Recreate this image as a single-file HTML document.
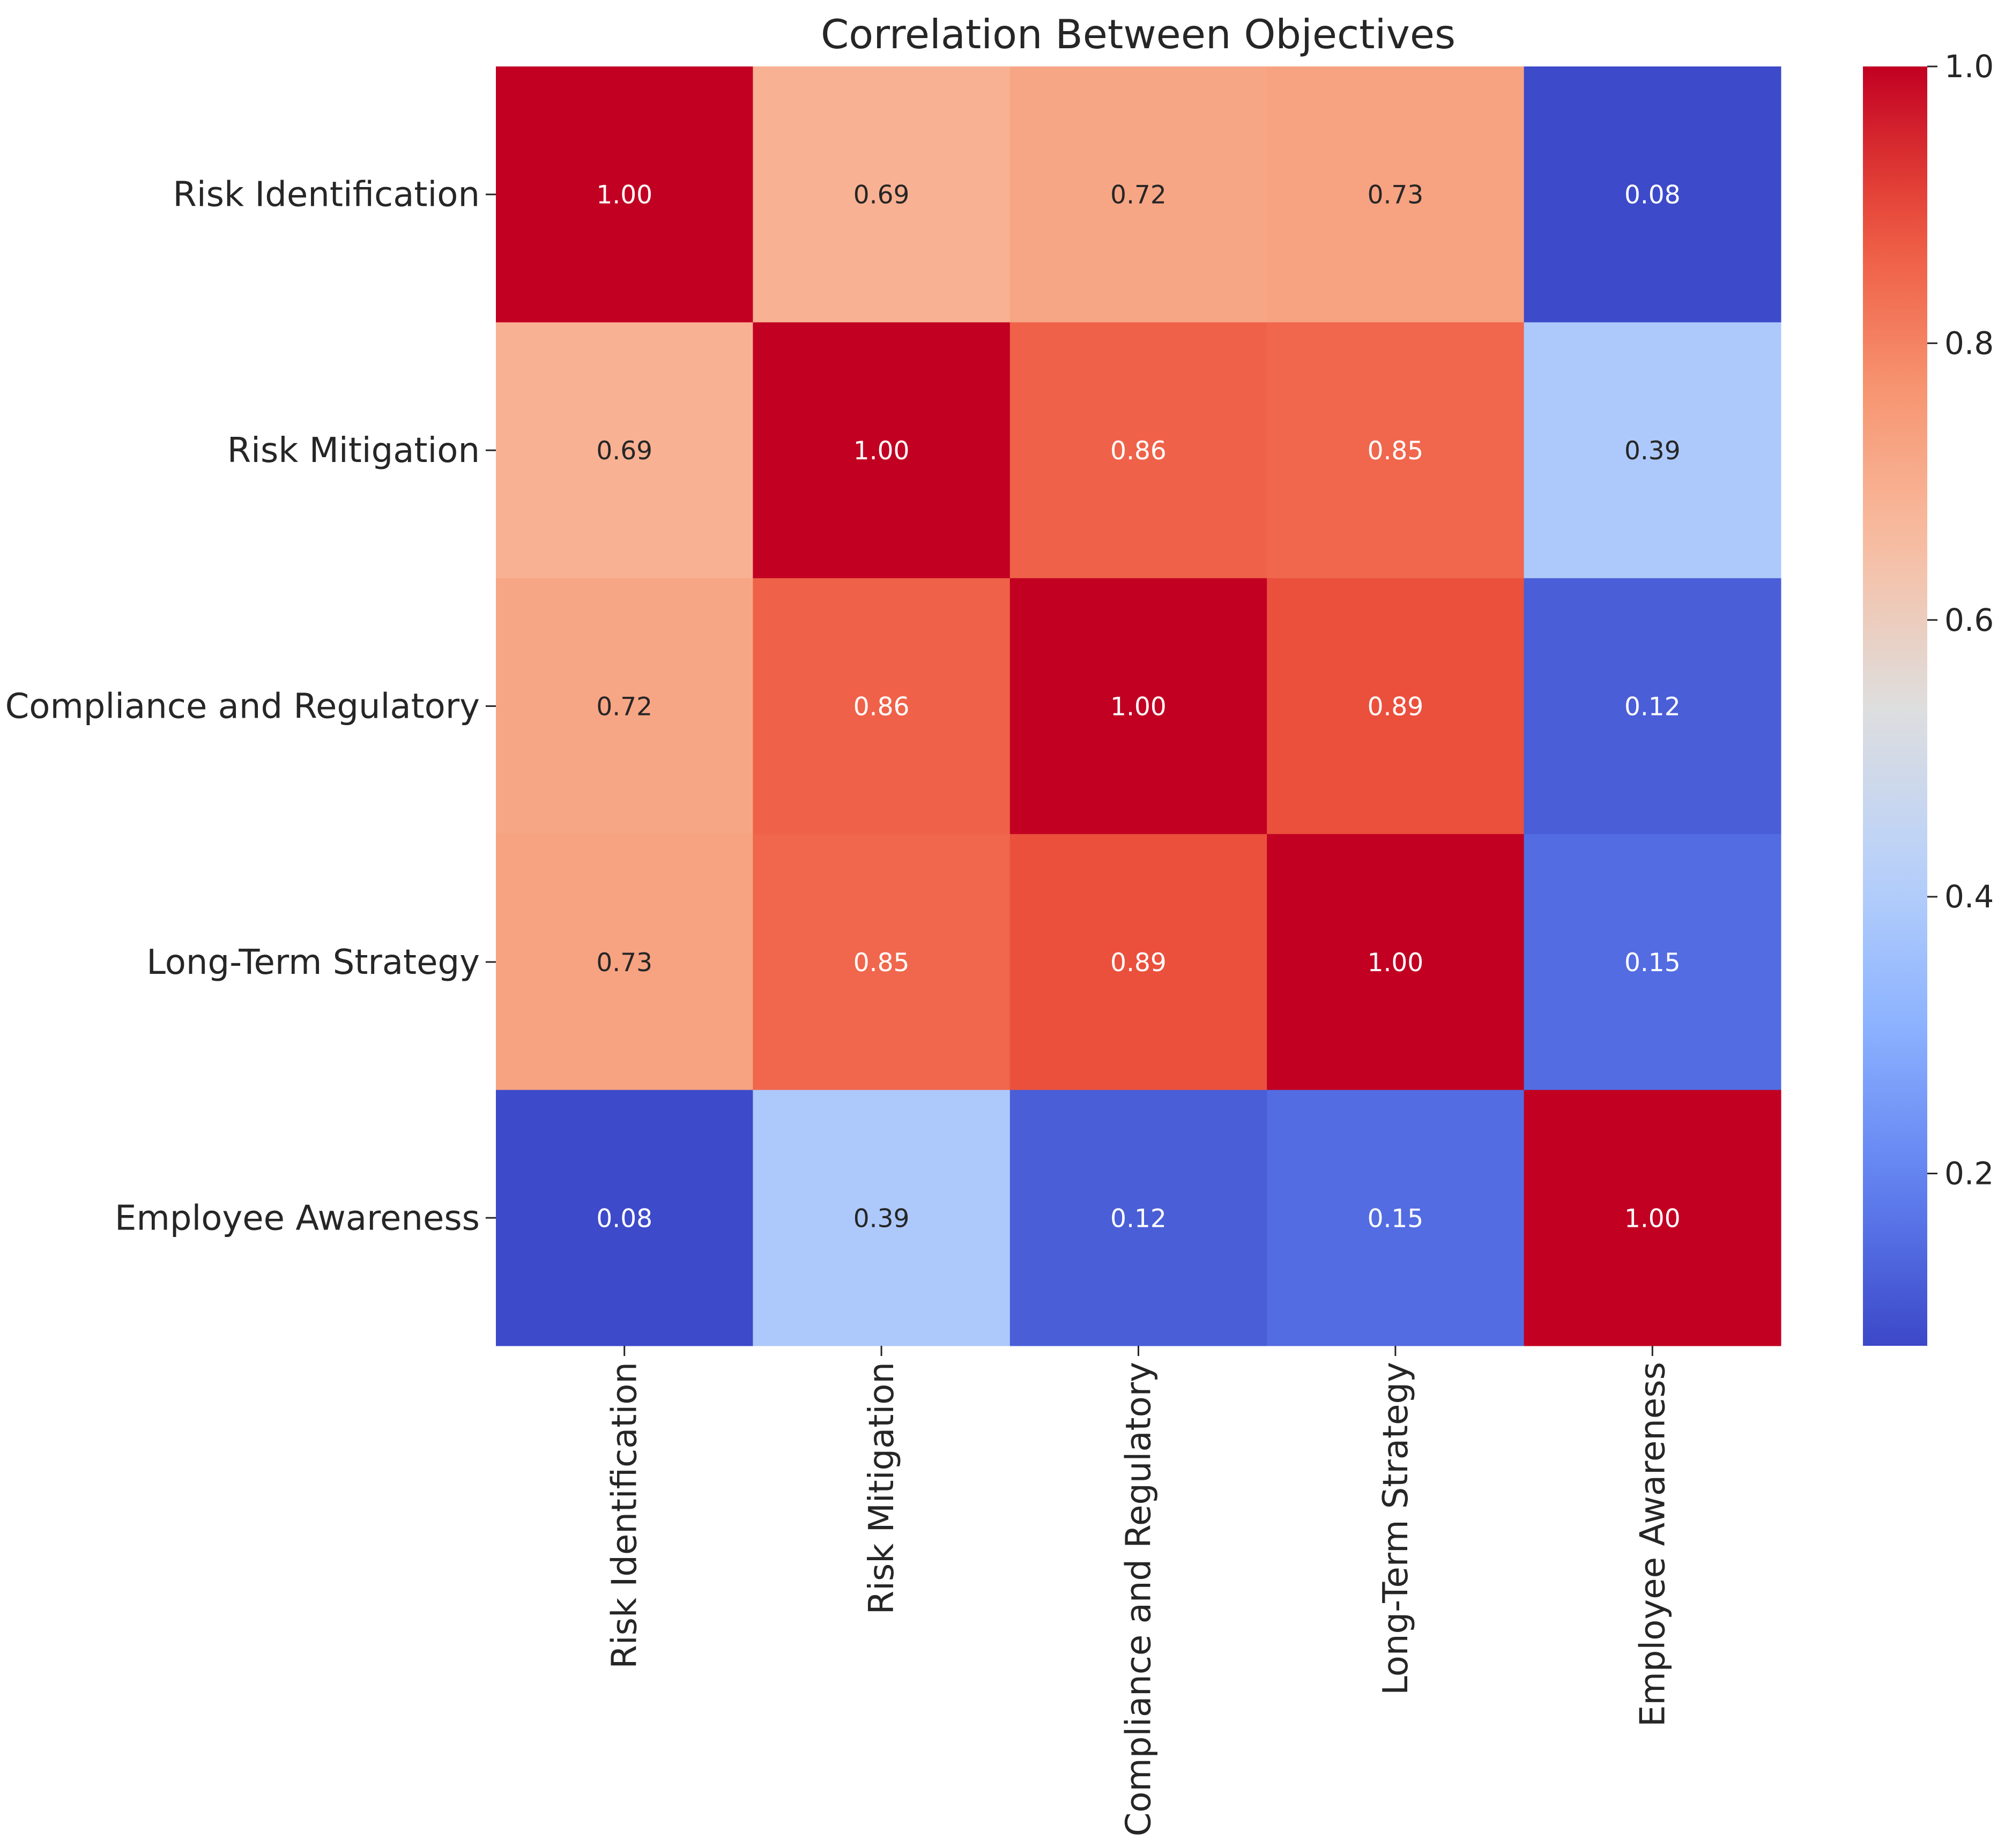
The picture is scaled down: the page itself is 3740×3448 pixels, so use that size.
<!DOCTYPE html>
<html><head><meta charset="utf-8">
<style>
html,body{margin:0;padding:0;background:#fff;}
svg{display:block;font-family:"DejaVu Sans","Liberation Sans",sans-serif;}
</style></head>
<body>
<svg id="chart" width="3740" height="3448" viewBox="0 0 3740 3448" xmlns="http://www.w3.org/2000/svg">
<rect width="3740" height="3448" fill="#fff"/>
<text x="2123" y="90" font-size="75" text-anchor="middle" fill="#262626">Correlation Between Objectives</text>
<g id="cells"></g>
<g id="yaxis"></g>
<g id="xaxis"></g>
<defs><linearGradient id="cbgrad" x1="0" y1="1" x2="0" y2="0"></linearGradient></defs>
<g id="colorbar"></g>
</svg>
<script>
const categories = ["Risk Identification","Risk Mitigation","Compliance and Regulatory","Long-Term Strategy","Employee Awareness"];
const row0 = [1.00,0.69,0.72,0.73,0.08];
const row1 = [0.69,1.00,0.86,0.85,0.39];
const row2 = [0.72,0.86,1.00,0.89,0.12];
const row3 = [0.73,0.85,0.89,1.00,0.15];
const row4 = [0.08,0.39,0.12,0.15,1.00];
const matrix = [row0,row1,row2,row3,row4];
const colorbarTicks = [0.2,0.4,0.6,0.8,1.0];
const vmin = 0.0755, vmax = 1.0;

const NS = "http://www.w3.org/2000/svg";
const L = 925, R = 3322, T = 124, B = 2511;
const n = categories.length;
const cw = (R - L) / n, ch = (B - T) / n;
const xPos = i => L + i * cw;
const yPos = j => T + j * ch;

const stops = [[60,72,200],[96,128,240],[140,178,255],[186,210,250],[222,222,222],[248,190,162],[247,148,112],[237,84,62],[194,0,34]];
function cmap(v){
  let t = (v - vmin) / (vmax - vmin); t = Math.max(0, Math.min(1, t));
  const p = t * (stops.length - 1); const i = Math.min(stops.length - 2, Math.floor(p)); const f = p - i;
  const c = stops[i].map((a,k)=>Math.round(a + (stops[i+1][k]-a)*f));
  return `rgb(${c[0]},${c[1]},${c[2]})`;
}
function mk(tag, attrs, parent){
  const e = document.createElementNS(NS, tag);
  for (const k in attrs) e.setAttribute(k, attrs[k]);
  parent.appendChild(e); return e;
}
const cells = document.getElementById('cells');
matrix.forEach((row, j) => {
  row.forEach((v, i) => {
    const r = mk('rect', {x:xPos(i), y:yPos(j), width:cw+0.5, height:ch+0.5, fill:cmap(v)}, cells);
    
    
    const t = mk('text', {x:xPos(i)+cw/2, y:yPos(j)+ch/2+17, 'font-size':47, 'text-anchor':'middle', fill:(v>0.8||v<0.25)?'#fff':'#262626'}, cells);
    t.textContent = v.toFixed(2);
    
    
  });
});
const yaxis = document.getElementById('yaxis');
const xaxis = document.getElementById('xaxis');
categories.forEach((c, j) => {
  const cy = yPos(j) + ch/2;
  const tk = mk('line', {x1:L-19, x2:L, y1:cy, y2:cy, stroke:'#262626', 'stroke-width':3}, yaxis);
  
  
  const t = mk('text', {x:L-30, y:cy+22, 'font-size':64, 'text-anchor':'end', fill:'#262626'}, yaxis);
  t.textContent = c;
  
  
  const cx = xPos(j) + cw/2;
  const tk2 = mk('line', {x1:cx, x2:cx, y1:B, y2:B+19, stroke:'#262626', 'stroke-width':3}, xaxis);
  
  
  const t2 = mk('text', {x:0, y:0, 'font-size':64, 'text-anchor':'end', fill:'#262626', transform:`translate(${cx+22},${B+30}) rotate(-90)`}, xaxis);
  t2.textContent = c;
  
  
});
// colorbar
const grad = document.getElementById('cbgrad');
for (let k = 0; k <= 20; k++) {
  const v = vmin + (vmax - vmin) * k / 20;
  mk('stop', {offset: (k/20*100)+'%', 'stop-color': cmap(v)}, grad);
}
const cb = document.getElementById('colorbar');
const CL = 3475, CR = 3595;
const cbY = v => B - (v - vmin) / (vmax - vmin) * (B - T);
const bar = mk('rect', {x:CL, y:T, width:CR-CL, height:B-T, fill:'url(#cbgrad)'}, cb);


colorbarTicks.forEach(v => {
  const y = cbY(v);
  const tk = mk('line', {x1:CR, x2:CR+19, y1:y, y2:y, stroke:'#262626', 'stroke-width':3}, cb);
  
  
  const t = mk('text', {x:CR+32, y:y+20, 'font-size':58, fill:'#262626'}, cb);
  t.textContent = v.toFixed(1);
  
  
});
</script>
</body></html>
